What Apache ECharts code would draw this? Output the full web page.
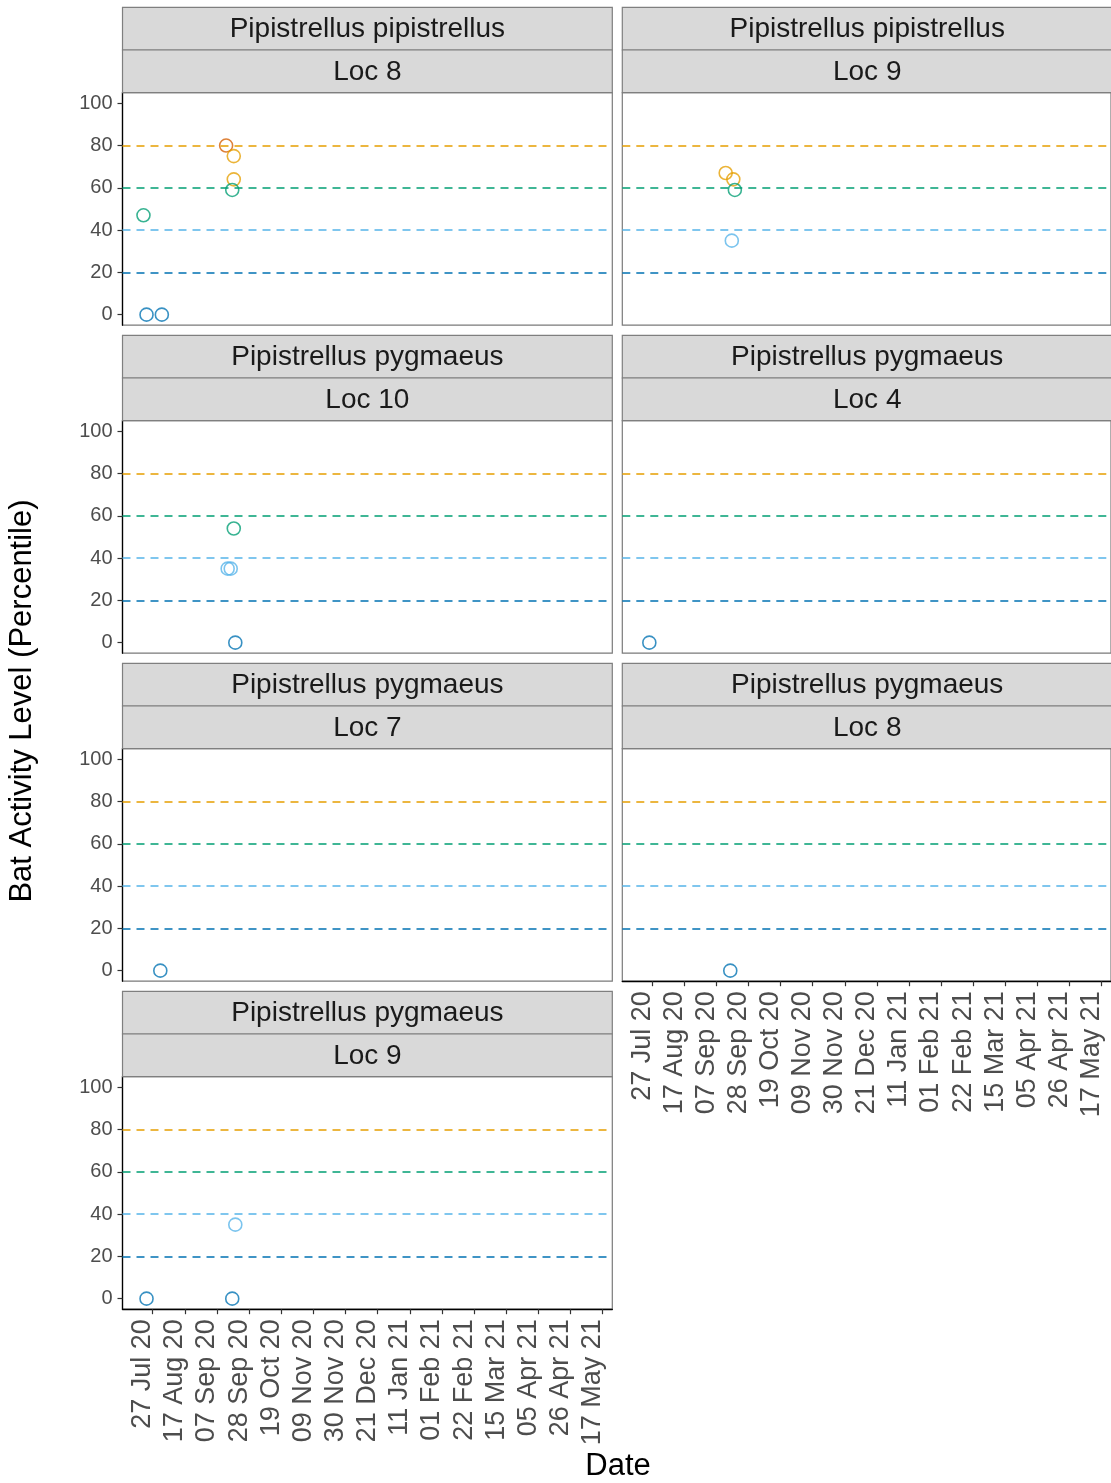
<!DOCTYPE html>
<html>
<head>
<meta charset="utf-8">
<script src="https://cdn.jsdelivr.net/npm/echarts@6/dist/echarts.min.js"></script>
<style>
html,body{margin:0;padding:0;background:#fff;}
#chart{width:1111px;height:1483px;}
</style>
</head>
<body>
<div id="chart"></div>
<script>
// ---------------- data ----------------
const species = ['Pipistrellus pipistrellus','Pipistrellus pipistrellus','Pipistrellus pygmaeus','Pipistrellus pygmaeus','Pipistrellus pygmaeus','Pipistrellus pygmaeus','Pipistrellus pygmaeus'];
const locations = ['Loc 8','Loc 9','Loc 10','Loc 4','Loc 7','Loc 8','Loc 9'];

const pipLoc8Dates  = ['2020-07-21','2020-07-23','2020-08-02','2020-09-13','2020-09-18','2020-09-18','2020-09-17'];
const pipLoc8Values = [47, 0, 0, 80, 75, 64, 59];

const pipLoc9Dates  = ['2020-09-13','2020-09-18','2020-09-19','2020-09-17'];
const pipLoc9Values = [67, 64, 59, 35];

const pygLoc10Dates  = ['2020-09-18','2020-09-14','2020-09-16','2020-09-19'];
const pygLoc10Values = [54, 35, 35, 0];

const pygLoc4Dates  = ['2020-07-25'];
const pygLoc4Values = [0];

const pygLoc7Dates  = ['2020-08-01'];
const pygLoc7Values = [0];

const pygLoc8Dates  = ['2020-09-16'];
const pygLoc8Values = [0];

const pygLoc9Dates  = ['2020-07-23','2020-09-17','2020-09-19'];
const pygLoc9Values = [0, 0, 35];

const thresholds = [20, 40, 60, 80];
const yTicks = [0, 20, 40, 60, 80, 100];
const tickDates = ['2020-07-27','2020-08-17','2020-09-07','2020-09-28','2020-10-19','2020-11-09','2020-11-30','2020-12-21','2021-01-11','2021-02-01','2021-02-22','2021-03-15','2021-04-05','2021-04-26','2021-05-17'];
const tickLabels = ['27 Jul 20','17 Aug 20','07 Sep 20','28 Sep 20','19 Oct 20','09 Nov 20','30 Nov 20','21 Dec 20','11 Jan 21','01 Feb 21','22 Feb 21','15 Mar 21','05 Apr 21','26 Apr 21','17 May 21'];

// ---------------- helpers ----------------
const DAY = 86400000;
const D = s => { const p = s.split('-').map(Number); return Date.UTC(p[0], p[1]-1, p[2]); };
const xMin = D('2020-07-07') + 0.3*DAY;
const xMax = D('2021-05-23') + 0.3*DAY;
const tickTimes = tickDates.map(D);
const labelFor = v => { const i = tickTimes.indexOf(v); return i >= 0 ? tickLabels[i] : ''; };

const lineColors = {20:'#0072B2', 40:'#56B4E9', 60:'#009E73', 80:'#E69F00'};
function pointColor(v){
  if (v >= 80) return '#D55E00';
  if (v >= 60) return '#E69F00';
  if (v >= 40) return '#009E73';
  if (v >= 20) return '#56B4E9';
  return '#0072B2';
}

const panels = [
  [pipLoc8Dates, pipLoc8Values],
  [pipLoc9Dates, pipLoc9Values],
  [pygLoc10Dates, pygLoc10Values],
  [pygLoc4Dates, pygLoc4Values],
  [pygLoc7Dates, pygLoc7Values],
  [pygLoc8Dates, pygLoc8Values],
  [pygLoc9Dates, pygLoc9Values]
];
const xAxisPanels = [5, 6];

// ---------------- layout ----------------
const FONT = '"Liberation Sans", Arial, Helvetica, sans-serif';
const colLeft = [122.5, 622.3];
const panelW = 489.8;
const panelH = 232.5;
const rowTop0 = 92.7;
const rowStep = 328;
const stripH = 42.7;

const grids = [], xAxes = [], yAxes = [], series = [], graphics = [];

panels.forEach((p, i) => {
  const r = Math.floor(i / 2), c = i % 2;
  const left = colLeft[c], top = rowTop0 + rowStep * r;
  grids.push({left: left, top: top, width: panelW, height: panelH, show: true,
    borderColor: '#7a7a7a', borderWidth: 1.2, backgroundColor: '#fff', containLabel: false});
  const hasX = xAxisPanels.includes(i);
  xAxes.push({
    type: 'value', gridIndex: i, min: xMin, max: xMax,
    splitLine: {show: false},
    axisLine: {show: hasX, onZero: false, lineStyle: {color: '#000', width: 1.3}},
    axisTick: {show: hasX, length: 5, customValues: tickTimes, lineStyle: {color: '#333', width: 1.2}},
    axisLabel: {show: hasX, customValues: tickTimes, rotate: 90, margin: 10,
      verticalAlign: 'bottom', lineHeight: 20,
      fontSize: 27, fontFamily: FONT, color: '#4d4d4d', formatter: v => labelFor(v)}
  });
  const hasY = c === 0;
  yAxes.push({
    type: 'value', gridIndex: i, min: -5, max: 105,
    splitLine: {show: false},
    axisLine: {show: hasY, onZero: false, lineStyle: {color: '#000', width: 1.3}},
    axisTick: {show: hasY, length: 5, customValues: yTicks, lineStyle: {color: '#333', width: 1.2}},
    axisLabel: {show: hasY, customValues: yTicks, margin: 10, fontSize: 20, fontFamily: FONT, color: '#4d4d4d'}
  });
  const data = p[0].map((d, k) => ({
    value: [D(d), p[1][k]],
    itemStyle: {color: 'rgba(0,0,0,0)', borderColor: pointColor(p[1][k]), borderWidth: 1.6, opacity: 0.78}
  }));
  series.push({
    type: 'scatter', xAxisIndex: i, yAxisIndex: i, symbol: 'circle', symbolSize: 13,
    data: data, z: 3,
    markLine: {
      silent: true, symbol: 'none', animation: false, label: {show: false},
      data: thresholds.map(t => ({yAxis: t, lineStyle: {color: lineColors[t], type: [8, 6], width: 1.7}}))
    }
  });
  // strips
  const s1 = top - 2 * stripH, s2 = top - stripH;
  [[s1, species[i]], [s2, locations[i]]].forEach(([y, txt]) => {
    graphics.push({type: 'rect', shape: {x: left, y: y, width: panelW, height: stripH},
      style: {fill: '#d9d9d9', stroke: '#7f7f7f', lineWidth: 1.2}, z: 10});
    graphics.push({type: 'text', x: left + panelW / 2, y: y + stripH / 2 + 1,
      style: {text: txt, fontSize: 28, fontFamily: FONT, fill: '#1a1a1a', align: 'center', verticalAlign: 'middle'}, z: 11});
  });
});

graphics.push({type: 'text', x: 22, y: 701, rotation: Math.PI / 2,
  style: {text: 'Bat Activity Level (Percentile)', fontSize: 31, fontFamily: FONT, fill: '#000', align: 'center', verticalAlign: 'middle'}, z: 11});
graphics.push({type: 'text', x: 618, y: 1466,
  style: {text: 'Date', fontSize: 31, fontFamily: FONT, fill: '#000', align: 'center', verticalAlign: 'middle'}, z: 11});

const chart = echarts.init(document.getElementById('chart'), null, {renderer: 'canvas'});
chart.setOption({
  backgroundColor: '#fff',
  animation: false,
  textStyle: {fontFamily: FONT},
  grid: grids, xAxis: xAxes, yAxis: yAxes, series: series,
  graphic: {elements: graphics}
});
</script>
</body>
</html>
